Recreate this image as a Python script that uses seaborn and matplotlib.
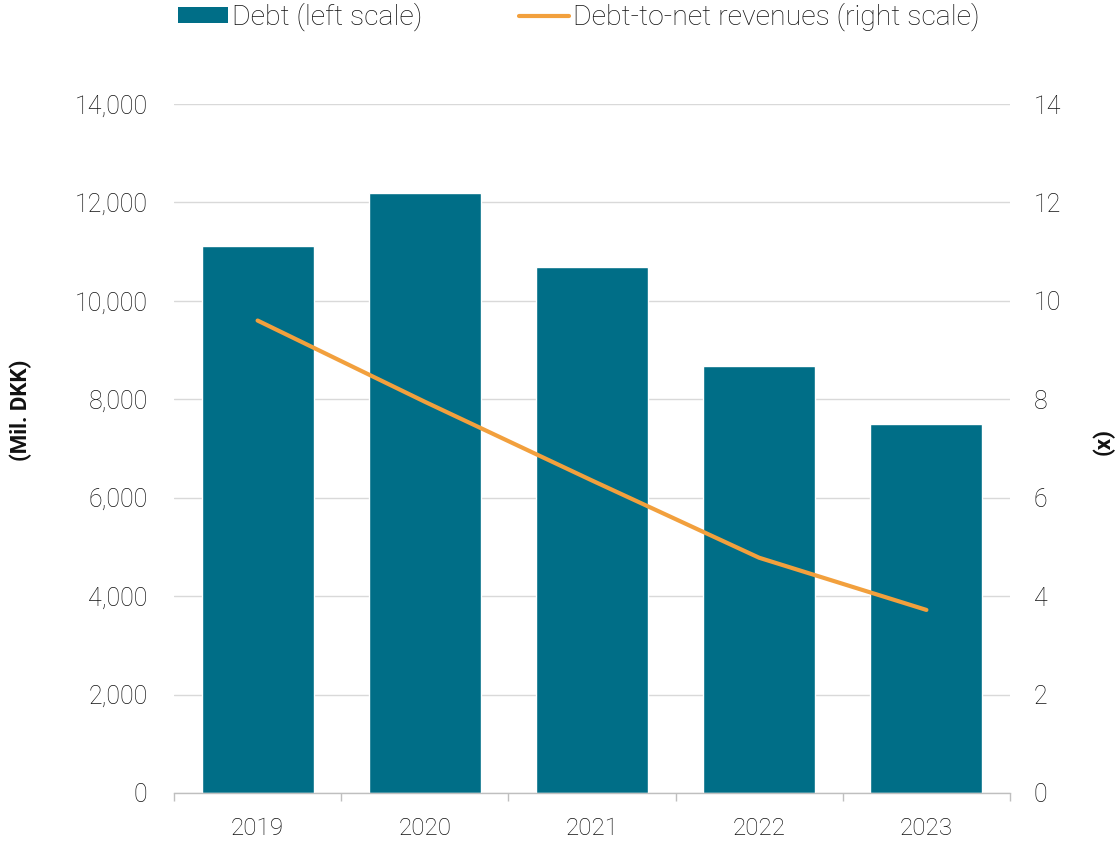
import matplotlib
matplotlib.use("Agg")
import matplotlib.pyplot as plt
import seaborn as sns
import pandas as pd
from matplotlib.patches import Patch
from matplotlib.lines import Line2D
from matplotlib.ticker import FuncFormatter, FixedLocator

years = ["2019", "2020", "2021", "2022", "2023"]
debt = [11120, 12200, 10690, 8680, 7500]
debt_to_rev = [9.6, 7.95, 6.35, 4.78, 3.72]

BAR = "#006E87"
LINE = "#F2A03D"
TXT = "#111111"
GRID = "#D9D9D9"

sns.set_theme(style="white")
plt.rcParams["font.family"] = ["Roboto", "DejaVu Sans"]
plt.rcParams["font.weight"] = "light"

df = pd.DataFrame({"year": years, "debt": debt, "ratio": debt_to_rev})

W, H = 1117, 841
fig = plt.figure(figsize=(W / 100, H / 100), dpi=100)
ax = fig.add_axes([174 / W, (H - 793) / H, (1010 - 174) / W, (793 - 104) / H])

sns.barplot(data=df, x="year", y="debt", color=BAR, width=0.67, saturation=1, ax=ax, zorder=2)
ax.set_xlim(-0.5, 4.5)
ax.set_ylim(0, 14000)
ax.set_yticks(range(0, 14001, 2000))
ax.yaxis.set_major_formatter(FuncFormatter(lambda v, p: f"{int(v):,}"))
ax.grid(axis="y", color=GRID, lw=1, zorder=0)
ax.set_axisbelow(True)
for s in ["left", "right", "top"]:
    ax.spines[s].set_visible(False)
ax.spines["bottom"].set_color("#BFBFBF")
ax.spines["bottom"].set_linewidth(1)
ax.tick_params(axis="y", length=0, pad=19, labelsize=18, labelcolor=TXT)
ax.tick_params(axis="x", which="major", length=0, pad=17, labelsize=17.5, labelcolor=TXT)
ax.xaxis.set_minor_locator(FixedLocator([-0.5, 0.5, 1.5, 2.5, 3.5, 4.5]))
ax.tick_params(axis="x", which="minor", length=6, color="#BFBFBF", width=1, bottom=True)
ax.set_xlabel("")
ax.set_ylabel("(Mil. DKK)", fontsize=16, fontweight="bold", color=TXT)
ax.yaxis.set_label_coords((32 - 174) / 836, (793 - 410) / 689)

ax2 = ax.twinx()
sns.pointplot(data=df, x="year", y="ratio", color=LINE, marker="", linestyle="-",
              lw=3, errorbar=None, ax=ax2)
for l in ax2.lines:
    l.set_linewidth(3)
ax2.set_xlim(-0.5, 4.5)
ax2.set_ylim(0, 14)
ax2.set_yticks(range(0, 15, 2))
for s in ["left", "right", "top", "bottom"]:
    ax2.spines[s].set_visible(False)
ax2.tick_params(axis="y", length=0, pad=17, labelsize=18, labelcolor=TXT)
ax2.set_xlabel("")
ax2.set_ylabel("(x)", fontsize=16, fontweight="bold", color=TXT, rotation=90)
ax2.yaxis.set_label_coords((1092 - 174) / 836, (793 - 441) / 689)
ax2.grid(False)

handles = [Patch(facecolor=BAR, edgecolor="none"), Line2D([0], [0], color=LINE, lw=3)]
fig.legend(handles, ["Debt (left scale)", "Debt-to-net revenues (right scale)"],
           loc="center left", bbox_to_anchor=(178 / W, 1 - 17 / H), ncol=2, frameon=False,
           fontsize=20.5, handlelength=1.75, handleheight=0.5, handletextpad=0.15,
           columnspacing=3.4, labelcolor=TXT, borderaxespad=0, borderpad=0)

fig.savefig("out.png", dpi=100)
